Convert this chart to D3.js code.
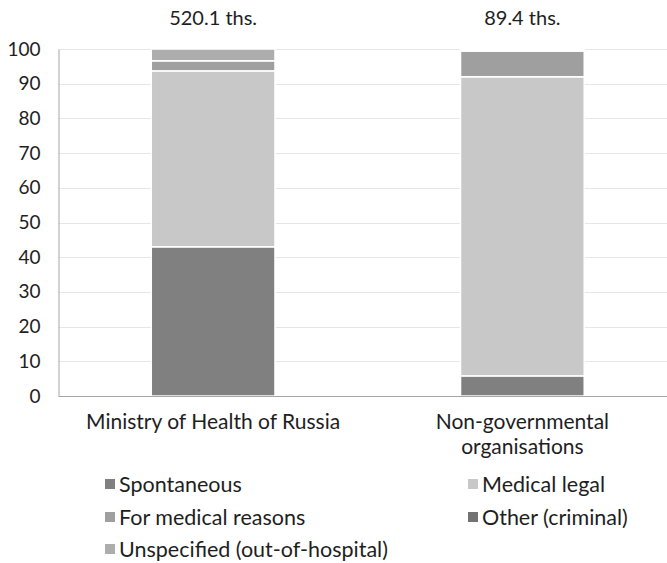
<!DOCTYPE html>
<html>
<head>
<meta charset="utf-8">
<script src="https://d3js.org/d3.v7.min.js"></script>
<style>
html, body { margin: 0; padding: 0; background: #fff; }
body { font-family: Lato, 'Open Sans', sans-serif; }
text { fill: #1e1e1e; }
</style>
</head>
<body>
<script>
// data
var categories = ["Ministry of Health of Russia", "Non-governmental organisations"];
var totals = ["520.1 ths.", "89.4 ths."];
var seriesNames = ["Spontaneous", "Medical legal", "For medical reasons", "Other (criminal)", "Unspecified (out-of-hospital)"];
var spontaneous = [43.0, 5.8];
var medicalLegal = [50.7, 86.2];
var forMedical = [2.9, 7.4];
var other = [0.0, 0.3];
var unspecified = [3.4, 0.3];
var yTicks = [0, 10, 20, 30, 40, 50, 60, 70, 80, 90, 100];

var colours = ["#808080", "#c8c8c8", "#9f9f9f", "#737373", "#adadad"];
var seriesValues = [spontaneous, medicalLegal, forMedical, other, unspecified];

var width = 667, height = 563;
var margin = { top: 49, left: 58.5 };
var font = "Lato, 'Open Sans', sans-serif";

var svg = d3.select("body").append("svg")
    .attr("width", width)
    .attr("height", height);

var rows = categories.map(function(c, i) {
    var r = { cat: c };
    seriesNames.forEach(function(s, j) { r[s] = seriesValues[j][i]; });
    return r;
});

var layers = d3.stack().keys(seriesNames)(rows);

var x = d3.scaleBand()
    .domain(categories)
    .range([margin.left, 677])
    .paddingInner(0.6)
    .paddingOuter(0.3);

var y = d3.scaleLinear()
    .domain([0, 100])
    .range([396, margin.top]);

// gridlines (very faint in the original)
svg.append("g")
    .selectAll("line")
    .data(yTicks.slice(1))
    .enter().append("line")
    .attr("x1", margin.left)
    .attr("x2", width)
    .attr("y1", function(d) { return Math.round(y(d)) + 0.5; })
    .attr("y2", function(d) { return Math.round(y(d)) + 0.5; })
    .attr("stroke", "#e6e6e6")
    .attr("stroke-width", 1);

// bars
svg.append("g")
    .selectAll("g")
    .data(layers)
    .enter().append("g")
    .attr("fill", function(d, i) { return colours[i]; })
    .selectAll("rect")
    .data(function(d) { return d; })
    .enter().append("rect")
    .attr("x", function(d) { return x(d.data.cat); })
    .attr("width", x.bandwidth())
    .attr("y", function(d) { return y(d[1]); })
    .attr("height", function(d) { return y(d[0]) - y(d[1]); })
    .attr("stroke", "#fff")
    .attr("stroke-width", 1.5);

// y axis
var yAxis = svg.append("g")
    .attr("transform", "translate(" + margin.left + ",0)")
    .call(d3.axisLeft(y).tickValues(yTicks).tickSize(0).tickPadding(18));
yAxis.select(".domain").attr("stroke", "#a6a6a6");
yAxis.selectAll("text")
    .style("font-size", "19px")
    .style("font-family", font)
    .attr("fill", "#1e1e1e");

// x axis line
svg.append("line")
    .attr("x1", margin.left).attr("x2", width)
    .attr("y1", 396.5).attr("y2", 396.5)
    .attr("stroke", "#a6a6a6");

// category labels
var catLines = [["Ministry of Health of Russia"], ["Non-governmental", "organisations"]];
categories.forEach(function(c, i) {
    var t = svg.append("text")
        .attr("x", x(c) + x.bandwidth() / 2)
        .attr("y", 429)
        .attr("text-anchor", "middle")
        .style("font-size", "21px");
    catLines[i].forEach(function(l, k) {
        t.append("tspan")
            .attr("x", x(c) + x.bandwidth() / 2)
            .attr("dy", k === 0 ? 0 : 25)
            .text(l);
    });
});

// totals above bars
svg.selectAll(".total")
    .data(categories)
    .enter().append("text")
    .attr("class", "total")
    .attr("x", function(d) { return x(d) + x.bandwidth() / 2; })
    .attr("y", 25)
    .attr("text-anchor", "middle")
    .style("font-size", "20px")
    .text(function(d, i) { return totals[i]; });

// legend, two columns like the original
var legendPos = [
    [105, 484], [468, 484],
    [105, 517], [468, 517],
    [105, 549]
];
var legend = svg.append("g")
    .selectAll("g")
    .data(seriesNames)
    .enter().append("g")
    .attr("transform", function(d, i) {
        return "translate(" + legendPos[i][0] + "," + legendPos[i][1] + ")";
    });
legend.append("rect")
    .attr("x", 0).attr("y", -5)
    .attr("width", 10).attr("height", 10)
    .attr("fill", function(d, i) { return colours[i]; });
legend.append("text")
    .attr("x", 14)
    .attr("y", 7.5)
    .style("font-size", "21.5px")
    .text(function(d) { return d; });
</script>
</body>
</html>
